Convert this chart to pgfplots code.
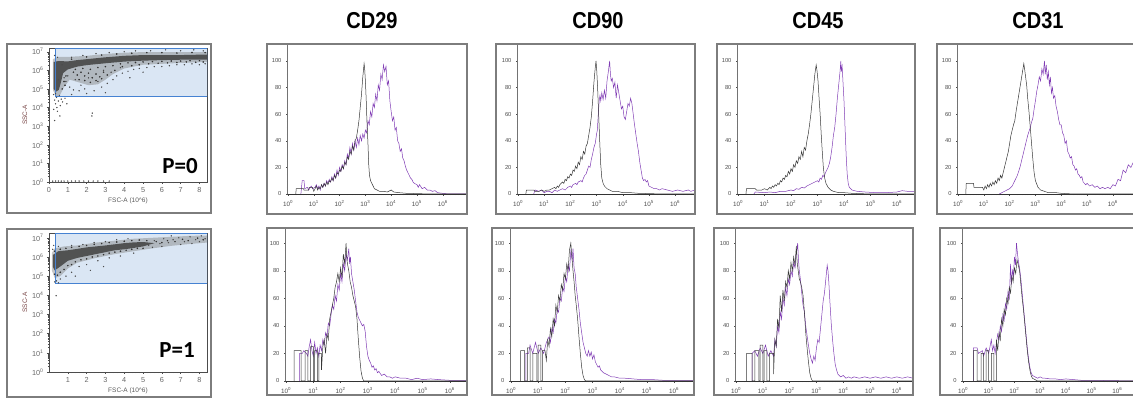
\documentclass[border=0pt]{standalone}
\usepackage{fontspec}
\setmainfont{Liberation Sans}
\newfontfamily\carlito{Carlito}
\usepackage{pgfplots}
\pgfplotsset{compat=1.18}
\newcommand\dec[1]{\mbox{10\textsuperscript{#1}}}
\definecolor{ctrl}{RGB}{55,55,55}
\definecolor{purp}{RGB}{128,60,180}
\definecolor{gateb}{RGB}{70,130,210}
\definecolor{gatef}{RGB}{218,230,244}
\definecolor{framec}{RGB}{125,125,125}
\definecolor{ylab}{RGB}{120,70,70}
\pgfplotsset{
  /pgf/number format/assume math mode=true,
  histo/.style={
    scale only axis, anchor=south west,
    axis x line*=bottom, axis y line*=left,
    x axis line style={black!80, line width=0.45pt},
    y axis line style={draw=black!55, line width=0.45pt, double=white, double distance=0.7pt},
    xmin=0, ymin=0,
    xtick={0,1,2,3,4,5,6},
    xticklabels={\dec{0},\dec{1},\dec{2},\dec{3},\dec{4},\dec{5},\dec{6}},
    minor xtick={0.301,0.477,0.602,0.699,0.778,0.845,0.903,0.954,1.301,1.477,1.602,1.699,1.778,1.845,1.903,1.954,2.301,2.477,2.602,2.699,2.778,2.845,2.903,2.954,3.301,3.477,3.602,3.699,3.778,3.845,3.903,3.954,4.301,4.477,4.602,4.699,4.778,4.845,4.903,4.954,5.301,5.477,5.602,5.699,5.778,5.845,5.903,5.954,6.301,6.477,6.602,6.699,6.778,6.845,6.903,6.954},
    ytick={0,20,40,60,80,100}, minor y tick num=3,
    tick align=outside, major tick length=2pt, minor tick length=1.2pt,
    tick style={black!70, line width=0.35pt},
    xticklabel style={font=\fontsize{6.3}{7}\selectfont, text=black!70, yshift=-1pt},
    yticklabel style={font=\fontsize{5.8}{7}\selectfont, text=black!70, xshift=-1pt},
    every axis plot/.append style={line width=0.5pt, mark=none},
  },
  scat/.style={
    scale only axis, anchor=south west,
    xmin=0, xmax=8.4, ymin=0,
    xtick={0,1,2,3,4,5,6,7,8},
    ytick={0,1,2,3,4,5,6,7},
    yticklabels={\dec{0},\dec{1},\dec{2},\dec{3},\dec{4},\dec{5},\dec{6},\dec{7}},
    minor ytick={0.301,0.477,0.602,0.699,0.778,0.845,0.903,0.954,1.301,1.477,1.602,1.699,1.778,1.845,1.903,1.954,2.301,2.477,2.602,2.699,2.778,2.845,2.903,2.954,3.301,3.477,3.602,3.699,3.778,3.845,3.903,3.954,4.301,4.477,4.602,4.699,4.778,4.845,4.903,4.954,5.301,5.477,5.602,5.699,5.778,5.845,5.903,5.954,6.301,6.477,6.602,6.699,6.778,6.845,6.903,6.954},
    minor x tick num=4,
    tick align=outside, xtick pos=left, ytick pos=left,
    axis line style={black!70, line width=0.45pt},
    tick style={black!70, line width=0.35pt},
    major tick length=2pt, minor tick length=1.2pt,
    tick label style={font=\fontsize{7.3}{8}\selectfont, text=black!60},
    xlabel style={font=\fontsize{6.5}{7}\selectfont, text=black!65, yshift=2pt},
    ylabel style={font=\fontsize{6.5}{7}\selectfont, text=ylab, yshift=-2pt},
    xlabel={FSC-A (10\textasciicircum 6)}, ylabel={SSC-A},
  },
  gate/.style={fill=gatef, draw=none},
  gateline/.style={draw=gateb, line width=0.8pt},
  halo/.style={fill=black!50, draw=none, fill opacity=0.45},
  core/.style={fill=black!72, draw=none, fill opacity=0.9},
  dots/.style={only marks, mark=*, mark size=0.45pt, black!70},
  dotsd/.style={only marks, mark=*, mark size=0.55pt, black!80},
}
\begin{document}
\begin{tikzpicture}
\path[use as bounding box] (0,0) rectangle (1133pt,398pt);

% ---------------- titles ----------------
\foreach \t/\xx in {CD29/372,CD90/598,CD45/818,CD31/1038}{
  \node[font=\fontsize{20}{22}\selectfont\bfseries, yscale=1.15] at (\xx pt,377pt) {\t};
}

% ---------------- scatter P=0 ----------------
\begin{axis}[scat, at={(49pt,216pt)}, width=158pt, height=134pt, ymax=7.2]
\addplot[gate] coordinates {(0.32,4.62) (8.4,4.62) (8.4,7.2) (0.32,7.2)} -- cycle;
\addplot[halo] coordinates {(0.22,4.9) (0.2,6.6) (0.5,6.72) (1,6.72) (2,6.78) (3,6.88) (4,6.95) (5,6.98) (6,6.98) (7,6.98) (8.4,6.98) (8.4,6.45) (7,6.4) (6,6.35) (5,6.3) (4,6.1) (3.4,5.8) (3,5.5) (2.6,5.25) (2.1,5.2) (1.6,5.35) (1.1,5.5) (0.8,5.1) (0.6,4.7) (0.4,4.6)} -- cycle;
\addplot[core] coordinates {(0.25,5.0) (0.25,6.45) (0.5,6.5) (1,6.48) (1.5,6.55) (2,6.6) (3,6.7) (4,6.78) (5,6.82) (6,6.82) (7,6.82) (8.4,6.85) (8.4,6.58) (7,6.57) (6,6.55) (5,6.52) (4,6.47) (3,6.38) (2,6.28) (1.5,6.2) (1,6.05) (0.75,5.85) (0.62,5.3) (0.52,4.95) (0.36,4.85)} -- cycle;
\addplot[dotsd] coordinates {(1.3,5.9) (1.5,5.75) (1.7,5.9) (1.9,5.7) (2.1,5.85) (2.3,5.6) (2.5,5.8) (2.7,5.65) (2.9,5.9) (1.6,5.5) (1.9,5.45) (2.2,5.35) (2.5,5.45) (2.8,5.55) (3.1,5.75) (1.4,6.05) (1.8,6.1) (2.2,6.05) (2.6,6.15) (3.0,6.2) (3.4,6.25) (3.8,6.35) (4.2,6.4) (4.6,6.42) (5.0,6.45) (5.5,6.47) (6.0,6.48) (6.5,6.5) (7.0,6.5) (7.5,6.52) (8.0,6.52) (0.8,5.4) (0.85,5.2) (0.7,5.0) (0.9,5.7) (3.5,6.0) (3.9,6.2) (4.4,6.25) (4.8,6.3) (5.3,6.35) (5.8,6.38) (6.3,6.4) (6.8,6.42) (7.3,6.45) (7.8,6.43) (8.2,6.45) (1.2,6.6) (2.0,6.72) (2.8,6.82) (3.6,6.88) (4.4,6.92) (5.2,6.95) (6.0,6.95) (6.8,6.93) (7.6,6.96) (8.3,6.95)};
\addplot[dots] coordinates {(0.9,5.4) (1.1,5.1) (1.3,4.95) (1.6,4.9) (1.9,5.0) (2.4,4.9) (2.8,5.1) (3.1,5.3) (3.4,5.5) (3.6,5.7) (3.9,5.85) (4.2,5.95) (4.5,6.05) (4.8,6.1) (5.2,6.15) (5.6,6.2) (6.0,6.2) (6.4,6.25) (6.8,6.3) (7.2,6.3) (7.6,6.35) (8.0,6.3) (8.3,6.35) (3.3,5.9) (3.8,6.15) (2.9,6.0) (2.1,5.6) (1.4,5.5) (1.0,5.7) (0.8,5.6) (0.7,6.3) (1.2,6.7) (1.8,6.8) (2.5,6.9) (3.2,6.95) (4.0,7.0) (4.6,7.05) (5.4,7.05) (6.2,7.1) (7.0,7.05) (7.7,7.1) (8.2,7.05) (4.3,5.6) (5.0,5.9) (2.6,5.4) (1.7,5.2) (3.0,4.8) (2.0,4.75) (1.2,4.7) (0.5,5.5) (0.45,6.7) (0.3,6.8) (0.35,4.75) (0.55,4.65) (0.25,4.7)
(0.3,4.4) (0.35,4.2) (0.5,4.35) (0.42,4.0) (0.6,4.1) (0.72,4.3) (0.45,3.8) (0.58,3.55) (0.95,4.2) (0.3,3.3) (2.3,3.7) (2.28,3.55) (0.85,4.5) (0.4,4.55) (0.65,4.45) (0.25,3.9)
(0.2,0.05) (0.35,0.05) (0.5,0.05) (0.65,0.05) (0.8,0.05) (1.0,0.05) (1.2,0.05) (1.4,0.05) (1.6,0.05) (1.85,0.05) (2.1,0.05) (2.35,0.05) (2.6,0.05) (2.9,0.05) (3.2,0.05)};
\addplot[gateline] coordinates {(0.32,4.62) (8.4,4.62) (8.4,7.2) (0.32,7.2)} -- cycle;
\end{axis}
\node[font={\carlito\fontsize{23}{24}\selectfont\bfseries}] at (180pt,232pt) {P=0};

% ---------------- scatter P=1 ----------------
\begin{axis}[scat, at={(49pt,26pt)}, width=158pt, height=139pt, ymax=7.25, xtick={1,2,3,4,5,6,7,8}]
\addplot[gate] coordinates {(0.32,4.6) (8.4,4.6) (8.4,7.25) (0.32,7.25)} -- cycle;
\addplot[halo] coordinates {(0.15,5.3) (0.15,6.2) (0.3,6.45) (0.8,6.55) (1.5,6.6) (2.5,6.75) (3.5,6.85) (4.5,6.95) (5.5,7.0) (6.5,7.05) (7.5,7.1) (8.4,7.12) (8.4,6.75) (7.5,6.68) (6.5,6.58) (5.5,6.45) (4.5,6.3) (3.5,6.15) (2.5,5.95) (1.5,5.7) (1,5.4) (0.6,5.0) (0.3,4.9)} -- cycle;
\addplot[core] coordinates {(0.2,5.5) (0.2,6.1) (0.5,6.3) (1,6.35) (1.5,6.42) (2,6.5) (2.5,6.55) (3,6.6) (3.5,6.66) (4,6.72) (4.5,6.76) (5,6.78) (5.6,6.72) (5,6.55) (4.5,6.47) (4,6.4) (3.5,6.35) (3,6.25) (2.5,6.15) (2,6.05) (1.5,5.95) (1,5.8) (0.6,5.5) (0.3,5.3)} -- cycle;
\addplot[dotsd] coordinates {(0.3,5.1) (0.45,5.05) (0.6,5.2) (0.8,5.35) (1.0,5.55) (1.2,5.6) (1.4,5.75) (1.7,5.85) (2.0,5.9) (2.3,6.0) (2.6,6.05) (2.9,6.12) (3.2,6.2) (3.5,6.25) (3.8,6.3) (4.1,6.35) (4.4,6.4) (4.7,6.45) (5.0,6.45) (0.3,6.3) (0.6,6.4) (0.9,6.45) (1.2,6.5) (1.6,6.55) (2.0,6.6) (2.4,6.66) (2.8,6.7) (3.2,6.75) (3.6,6.78) (4.0,6.82) (4.4,6.85) (4.8,6.88) (5.2,6.85) (5.7,6.8) (6.0,6.75) (6.3,6.85) (6.7,6.8) (7.1,6.92) (7.4,6.85) (7.9,6.98) (8.2,6.9)};
\addplot[dots] coordinates {(5.3,6.6) (5.6,6.85) (5.9,6.7) (6.1,6.95) (6.35,6.75) (6.6,6.9) (6.9,7.0) (7.2,6.8) (7.5,7.05) (7.8,6.9) (8.1,7.1) (8.3,6.95) (5.5,6.5) (6.0,6.55) (7.0,6.65) (6.5,7.1) (7.6,6.7) (8.0,6.8) (4.8,6.9) (4.2,6.95) (3.6,6.9) (3.0,6.8) (2.4,6.75) (1.8,6.65) (1.2,6.6) (4.5,6.2) (3.8,6.05) (3.2,5.95) (2.6,5.8) (2.0,5.6) (1.6,5.5) (1.2,5.2) (0.9,5.0) (0.6,4.85) (0.4,4.75) (0.3,4.7) (0.5,4.65) (0.38,3.98) (1.4,5.0) (2.2,5.3) (2.9,5.5) (0.2,6.4) (0.25,6.6) (0.5,6.55)};
\addplot[gateline] coordinates {(0.32,4.6) (8.4,4.6) (8.4,7.25) (0.32,7.25)} -- cycle;
\end{axis}
\node[font={\carlito\fontsize{23}{24}\selectfont\bfseries}] at (177pt,48pt) {P=1};

% ---------------- row 1 histograms ----------------
% CD29
\begin{axis}[histo, at={(288pt,204pt)}, width=179pt, height=149pt, xmax=6.94, ymax=112]
\addplot[purp] coordinates {(0.5,0) (0.55,10) (0.62,10) (0.65,4) (0.75,5) (0.8,3) (0.9,6) (0.95,4) (1.05,5) (1.1,7) (1.15,4) (1.2,6) (1.25,3) (1.3,7) (1.35,5) (1.4,8) (1.45,6) (1.5,10) (1.55,8) (1.6,11) (1.65,9) (1.7,13) (1.75,10) (1.8,15) (1.85,12) (1.9,18) (1.95,14) (2.0,20) (2.05,17) (2.1,22) (2.15,19) (2.2,25) (2.25,22) (2.3,30) (2.35,27) (2.4,35) (2.45,30) (2.5,38) (2.55,33) (2.6,40) (2.65,35) (2.7,42) (2.75,37) (2.8,44) (2.85,40) (2.9,45) (2.95,42) (3.0,48) (3.05,46) (3.1,55) (3.15,52) (3.2,62) (3.25,58) (3.3,68) (3.35,65) (3.4,75) (3.45,70) (3.5,82) (3.55,78) (3.6,90) (3.65,86) (3.7,97) (3.75,92) (3.8,96) (3.85,82) (3.9,85) (3.95,70) (4.0,62) (4.05,55) (4.1,58) (4.15,48) (4.2,50) (4.25,40) (4.3,38) (4.35,32) (4.4,34) (4.45,27) (4.5,25) (4.55,21) (4.6,18) (4.65,16) (4.7,14) (4.75,12) (4.8,11) (4.85,9) (4.9,8) (5.0,7) (5.05,5) (5.1,7) (5.2,4) (5.3,5) (5.4,3) (5.5,3) (5.6,2) (5.7,2.5) (5.8,1) (6.0,0.5) (6.2,0) (6.94,0)};
\addplot[ctrl] coordinates {(0.3,0) (0.32,4) (0.6,4) (0.62,3) (0.8,3) (0.82,5) (0.95,5) (1.0,2) (1.05,4) (1.1,6) (1.15,3) (1.2,5) (1.25,4) (1.3,7) (1.35,5) (1.4,8) (1.45,6) (1.5,9) (1.55,7) (1.6,10) (1.65,9) (1.7,12) (1.75,10) (1.8,14) (1.85,12) (1.9,16) (1.95,15) (2.0,18) (2.05,17) (2.1,21) (2.15,19) (2.2,24) (2.25,22) (2.3,28) (2.35,26) (2.4,32) (2.45,30) (2.5,36) (2.55,33) (2.6,40) (2.65,42) (2.7,48) (2.75,55) (2.8,65) (2.85,75) (2.9,88) (2.95,98) (2.97,95) (3.0,85) (3.03,72) (3.06,55) (3.1,38) (3.13,22) (3.16,14) (3.2,10) (3.25,8) (3.3,6) (3.35,4) (3.45,3) (3.55,2) (3.7,2) (3.85,1.5) (4.0,3) (4.1,1.5) (4.3,1) (4.6,0.5) (5,0.3) (5.5,0) (6.94,0)};
\end{axis}
% CD90
\begin{axis}[histo, at={(518pt,204pt)}, width=177pt, height=149pt, xmax=6.76, ymax=112]
\addplot[purp] coordinates {(0.6,0) (0.65,3) (0.8,2) (0.9,3) (1.0,1) (1.1,2) (1.2,2) (1.3,1) (1.4,3) (1.5,2) (1.6,3) (1.7,4) (1.8,3) (1.9,5) (2.0,6) (2.05,5) (2.1,7) (2.2,8) (2.25,7) (2.3,9) (2.4,10) (2.45,9) (2.5,12) (2.55,14) (2.6,15) (2.65,18) (2.7,21) (2.75,20) (2.8,26) (2.85,30) (2.9,35) (2.95,38) (3.0,45) (3.03,48) (3.06,58) (3.1,70) (3.13,74) (3.16,70) (3.2,76) (3.25,71) (3.3,78) (3.35,72) (3.4,85) (3.45,92) (3.5,100) (3.53,90) (3.56,85) (3.6,87) (3.65,80) (3.7,84) (3.75,72) (3.8,82) (3.85,76) (3.9,70) (3.95,64) (4.0,66) (4.05,58) (4.1,56) (4.15,62) (4.2,68) (4.25,66) (4.3,72) (4.35,68) (4.4,60) (4.45,52) (4.5,45) (4.55,38) (4.6,32) (4.65,24) (4.7,18) (4.75,12) (4.8,10) (4.85,11) (4.9,9) (4.95,10) (5.0,6) (5.1,5) (5.2,4) (5.3,4) (5.4,3) (5.5,4) (5.7,3) (5.9,2) (6.1,3) (6.3,2) (6.5,3) (6.6,2) (6.76,3)};
\addplot[ctrl] coordinates {(0.3,0) (0.32,3) (0.6,3) (0.65,2) (0.8,2) (0.9,3) (1.0,2) (1.1,3) (1.2,3) (1.3,4) (1.4,5) (1.45,4) (1.5,6) (1.55,5) (1.6,7) (1.65,8) (1.7,9) (1.75,8) (1.8,11) (1.85,10) (1.9,13) (1.95,12) (2.0,15) (2.05,14) (2.1,18) (2.15,17) (2.2,21) (2.25,19) (2.3,24) (2.35,22) (2.4,28) (2.45,26) (2.5,32) (2.55,30) (2.6,36) (2.65,38) (2.7,44) (2.75,50) (2.8,58) (2.85,70) (2.9,84) (2.95,95) (2.98,100) (3.01,92) (3.04,80) (3.08,60) (3.12,40) (3.16,22) (3.2,12) (3.25,8) (3.3,6) (3.4,4) (3.5,3) (3.6,2) (3.8,2) (4.0,1) (4.3,1) (4.6,0.5) (5,0.3) (5.5,0) (6.76,0)};
\end{axis}
% CD45
\begin{axis}[histo, at={(738pt,204pt)}, width=177pt, height=149pt, xmax=6.68, ymax=112]
\addplot[purp] coordinates {(0.6,0) (0.65,1.5) (1.0,1) (1.2,1.5) (1.4,1) (1.6,2) (1.8,2) (2.0,3) (2.1,2.5) (2.2,4) (2.3,3.5) (2.4,5) (2.5,4.5) (2.6,6) (2.7,7) (2.8,8) (2.9,9) (3.0,10) (3.05,9) (3.1,12) (3.15,11) (3.2,14) (3.25,13) (3.3,16) (3.35,18) (3.4,20) (3.45,23) (3.5,28) (3.55,35) (3.6,44) (3.65,50) (3.7,60) (3.75,72) (3.8,82) (3.85,92) (3.88,100) (3.9,92) (3.93,96) (3.96,85) (4.0,70) (4.04,50) (4.08,30) (4.12,15) (4.16,8) (4.2,5) (4.3,3) (4.5,2) (4.8,1.5) (5.2,1) (5.6,1) (6.0,1.5) (6.2,2.5) (6.4,2) (6.68,2)};
\addplot[ctrl] coordinates {(0.3,0) (0.32,4) (0.65,4) (0.7,3) (0.9,3) (1.0,4) (1.1,3) (1.2,5) (1.25,4) (1.3,6) (1.35,5) (1.4,7) (1.45,6) (1.5,8) (1.55,7) (1.6,10) (1.65,9) (1.7,12) (1.75,11) (1.8,14) (1.85,13) (1.9,17) (1.95,15) (2.0,19) (2.05,17) (2.1,22) (2.15,20) (2.2,25) (2.25,23) (2.3,28) (2.35,26) (2.4,32) (2.45,28) (2.5,35) (2.55,33) (2.6,40) (2.65,45) (2.7,52) (2.75,60) (2.8,70) (2.85,80) (2.9,90) (2.95,97) (2.98,93) (3.02,85) (3.06,72) (3.1,60) (3.14,45) (3.18,32) (3.22,20) (3.27,12) (3.32,8) (3.4,5) (3.5,3) (3.6,2) (3.8,1) (4.0,1) (4.3,0.5) (5,0) (6.68,0)};
\end{axis}
% CD31
\begin{axis}[histo, at={(958pt,204pt)}, width=176pt, height=149pt, xmax=6.82, ymax=112]
\addplot[purp] coordinates {(1.6,0) (1.7,1) (1.8,2) (1.9,3) (2.0,4) (2.05,5) (2.1,6) (2.15,8) (2.2,10) (2.25,12) (2.3,14) (2.35,17) (2.4,20) (2.45,24) (2.5,28) (2.55,32) (2.6,36) (2.65,40) (2.7,44) (2.75,47) (2.8,50) (2.85,54) (2.9,57) (2.95,64) (3.0,70) (3.05,77) (3.1,82) (3.15,88) (3.2,85) (3.25,94) (3.3,90) (3.35,100) (3.38,90) (3.42,97) (3.46,86) (3.5,92) (3.54,82) (3.58,88) (3.62,76) (3.66,80) (3.7,72) (3.75,74) (3.8,66) (3.85,62) (3.9,56) (3.95,52) (4.0,52) (4.05,46) (4.1,44) (4.15,38) (4.2,40) (4.25,32) (4.3,30) (4.35,27) (4.4,28) (4.45,22) (4.5,21) (4.55,18) (4.6,19) (4.65,15) (4.7,14) (4.75,12) (4.8,13) (4.85,9) (4.9,8) (4.95,7) (5.0,8) (5.1,6) (5.2,7) (5.3,5) (5.4,6) (5.5,4) (5.6,5) (5.7,4) (5.8,5) (5.9,4) (6.0,7) (6.1,6) (6.2,11) (6.3,10) (6.4,18) (6.5,16) (6.6,22) (6.7,20) (6.82,25)};
\addplot[ctrl] coordinates {(0.3,0) (0.32,8) (0.6,8) (0.62,5) (0.95,5) (1.0,3) (1.05,6) (1.1,4) (1.15,7) (1.2,5) (1.25,8) (1.3,6) (1.35,9) (1.4,7) (1.45,10) (1.5,8) (1.55,12) (1.6,10) (1.65,14) (1.7,12) (1.75,16) (1.8,20) (1.85,24) (1.9,28) (1.95,32) (2.0,38) (2.05,44) (2.1,48) (2.15,52) (2.2,55) (2.25,62) (2.3,68) (2.35,74) (2.4,80) (2.45,86) (2.5,92) (2.55,98) (2.58,94) (2.62,88) (2.66,82) (2.7,72) (2.75,62) (2.8,50) (2.85,38) (2.9,26) (2.95,16) (3.0,10) (3.1,5) (3.2,3) (3.35,2) (3.5,1) (3.8,1) (4.0,0.5) (4.5,0) (6.82,0)};
\end{axis}

% ---------------- row 2 histograms ----------------
% CD29
\begin{axis}[histo, at={(286pt,17pt)}, width=181pt, height=153pt, xmax=6.63, ymax=111]
\addplot[purp] coordinates {(0.5,0) (0.5,20) (0.6,20) (0.65,22) (0.75,20) (0.8,18) (0.85,25) (0.9,30) (0.95,22) (1.0,18) (1.05,28) (1.1,20) (1.15,24) (1.2,18) (1.25,26) (1.3,22) (1.35,30) (1.4,26) (1.45,35) (1.5,32) (1.55,42) (1.6,40) (1.65,48) (1.7,55) (1.75,52) (1.8,62) (1.85,58) (1.9,70) (1.95,66) (2.0,78) (2.05,72) (2.1,85) (2.15,80) (2.2,92) (2.25,88) (2.3,96) (2.33,85) (2.36,90) (2.4,78) (2.45,72) (2.5,66) (2.55,58) (2.6,50) (2.65,46) (2.7,44) (2.75,42) (2.8,40) (2.85,41) (2.9,36) (2.95,25) (3.0,18) (3.05,15) (3.1,13) (3.15,10) (3.2,11) (3.25,8) (3.3,9) (3.35,6) (3.4,7) (3.5,4) (3.6,5) (3.7,3) (3.8,3) (3.9,2) (4.0,3) (4.2,2) (4.4,2) (4.6,1) (4.8,2) (5.0,1) (5.3,1.5) (5.6,1) (6.0,0.5) (6.63,0.5)};
\addplot[ctrl] coordinates {(0.3,0) (0.3,22) (0.55,22) (0.55,0) (0.7,0) (0.7,22) (0.8,22) (0.8,0) (0.9,0) (0.9,25) (1.0,25) (1.0,0) (1.05,0) (1.05,22) (1.15,22) (1.15,0) (1.2,0) (1.2,20) (1.3,20) (1.3,8) (1.35,25) (1.4,30) (1.45,20) (1.5,34) (1.55,30) (1.6,45) (1.65,50) (1.7,55) (1.75,60) (1.8,68) (1.85,72) (1.9,78) (1.95,72) (2.0,82) (2.05,75) (2.1,92) (2.15,85) (2.2,100) (2.23,88) (2.26,84) (2.3,80) (2.35,72) (2.4,68) (2.45,62) (2.5,58) (2.55,54) (2.6,45) (2.65,30) (2.7,17) (2.75,7) (2.8,2) (2.85,0) (6.63,0)};
\end{axis}
% CD90
\begin{axis}[histo, at={(511pt,17pt)}, width=183pt, height=153pt, xmax=6.73, ymax=111]
\addplot[purp] coordinates {(0.55,0) (0.55,20) (0.65,20) (0.7,26) (0.8,20) (0.9,28) (1.0,20) (1.1,24) (1.2,20) (1.3,28) (1.4,32) (1.45,28) (1.5,38) (1.55,35) (1.6,45) (1.65,42) (1.7,52) (1.75,50) (1.8,60) (1.85,58) (1.9,68) (1.95,65) (2.0,76) (2.05,72) (2.1,84) (2.15,80) (2.2,94) (2.25,88) (2.28,96) (2.32,82) (2.36,78) (2.4,68) (2.45,60) (2.5,52) (2.55,42) (2.6,35) (2.65,28) (2.7,24) (2.75,20) (2.8,18) (2.85,22) (2.9,18) (2.95,21) (3.0,16) (3.05,19) (3.1,14) (3.15,12) (3.2,10) (3.25,11) (3.3,8) (3.4,6) (3.5,5) (3.6,4) (3.7,3) (3.8,3) (4.0,2) (4.2,2) (4.5,1.5) (4.8,1) (5.2,1) (5.6,0.5) (6.73,0.5)};
\addplot[ctrl] coordinates {(0.35,0) (0.35,22) (0.5,22) (0.5,0) (0.6,0) (0.6,24) (0.7,24) (0.7,0) (0.8,0) (0.8,20) (0.95,20) (0.95,0) (1.0,0) (1.0,26) (1.1,26) (1.1,0) (1.15,0) (1.15,22) (1.25,22) (1.3,15) (1.35,30) (1.4,25) (1.45,38) (1.5,32) (1.55,45) (1.6,40) (1.65,55) (1.7,50) (1.75,62) (1.8,58) (1.85,70) (1.9,66) (1.95,78) (2.0,74) (2.05,85) (2.1,80) (2.15,95) (2.2,100) (2.24,90) (2.28,80) (2.32,72) (2.36,62) (2.4,55) (2.45,45) (2.5,32) (2.55,20) (2.6,10) (2.65,4) (2.7,1) (2.75,0) (6.73,0)};
\end{axis}
% CD45
\begin{axis}[histo, at={(736pt,17pt)}, width=177pt, height=153pt, xmax=6.6, ymax=111]
\addplot[purp] coordinates {(0.6,0) (0.6,20) (0.7,22) (0.8,18) (0.9,24) (1.0,20) (1.1,26) (1.2,18) (1.3,22) (1.4,18) (1.45,30) (1.5,25) (1.55,40) (1.6,35) (1.65,50) (1.7,45) (1.75,60) (1.8,55) (1.85,68) (1.9,62) (1.95,74) (2.0,70) (2.05,80) (2.1,76) (2.15,86) (2.2,82) (2.25,92) (2.3,100) (2.33,88) (2.36,80) (2.4,74) (2.45,64) (2.5,55) (2.55,50) (2.6,40) (2.65,33) (2.7,26) (2.75,20) (2.8,16) (2.85,13) (2.9,18) (2.95,15) (3.0,24) (3.05,30) (3.1,28) (3.15,38) (3.2,48) (3.25,58) (3.3,64) (3.35,74) (3.4,84) (3.43,80) (3.46,72) (3.5,58) (3.55,42) (3.6,30) (3.65,20) (3.7,12) (3.75,8) (3.8,5) (3.85,4) (3.9,3) (4.0,4) (4.1,2) (4.2,3) (4.3,2) (4.4,3) (4.6,2) (4.8,3) (5.0,2) (5.2,3) (5.4,2) (5.6,3) (5.8,2) (6.0,3) (6.2,2) (6.4,3) (6.6,2)};
\addplot[ctrl] coordinates {(0.4,0) (0.4,20) (0.6,20) (0.6,0) (0.7,0) (0.7,22) (0.85,22) (0.85,0) (0.9,0) (0.9,26) (1.0,26) (1.0,0) (1.05,0) (1.05,22) (1.15,22) (1.15,0) (1.25,0) (1.25,20) (1.4,20) (1.4,5) (1.45,30) (1.5,25) (1.55,45) (1.6,38) (1.65,62) (1.7,50) (1.75,66) (1.8,58) (1.85,72) (1.9,68) (1.95,80) (2.0,74) (2.05,86) (2.1,80) (2.15,90) (2.2,84) (2.25,98) (2.28,86) (2.32,80) (2.36,74) (2.4,72) (2.45,68) (2.5,62) (2.55,50) (2.6,35) (2.65,24) (2.7,14) (2.75,6) (2.8,2) (2.85,0) (6.6,0)};
\end{axis}
% CD31
\begin{axis}[histo, at={(963pt,17pt)}, width=171pt, height=153pt, xmax=6.65, ymax=111]
\addplot[purp] coordinates {(0.4,0) (0.4,24) (0.55,24) (0.6,20) (0.75,22) (0.8,18) (0.9,24) (1.0,20) (1.1,30) (1.15,22) (1.2,26) (1.25,20) (1.3,28) (1.35,34) (1.4,30) (1.45,40) (1.5,36) (1.55,48) (1.6,44) (1.65,56) (1.7,52) (1.75,65) (1.8,60) (1.85,85) (1.88,70) (1.92,80) (1.96,76) (2.0,90) (2.04,84) (2.08,100) (2.12,92) (2.16,86) (2.2,82) (2.25,74) (2.3,64) (2.35,54) (2.4,44) (2.45,34) (2.5,24) (2.55,16) (2.6,10) (2.65,6) (2.7,4) (2.8,3) (2.9,2) (3.0,3) (3.1,2) (3.2,2) (3.4,1.5) (3.6,1.5) (3.8,1) (4.0,1.5) (4.3,1) (4.6,0.5) (5,0.5) (6.65,0)};
\addplot[ctrl] coordinates {(0.4,0) (0.4,22) (0.55,22) (0.55,0) (0.7,0) (0.7,20) (0.8,20) (0.8,0) (0.9,0) (0.9,22) (1.0,22) (1.0,0) (1.1,0) (1.1,20) (1.2,20) (1.2,0) (1.3,0) (1.3,30) (1.35,22) (1.4,35) (1.45,30) (1.5,45) (1.55,40) (1.6,52) (1.65,48) (1.7,60) (1.75,56) (1.8,68) (1.85,64) (1.9,76) (1.95,72) (2.0,82) (2.05,78) (2.1,88) (2.15,84) (2.2,80) (2.25,70) (2.3,60) (2.35,52) (2.4,42) (2.45,32) (2.5,22) (2.55,14) (2.6,8) (2.65,4) (2.7,2) (2.8,1) (2.9,0) (6.65,0)};
\end{axis}

% ---------------- screenshot frames ----------------
\begin{scope}[framec, line width=1.5pt]
\draw (7pt,185pt) rectangle (211pt,354pt);
\draw (7pt,1pt) rectangle (211pt,169pt);
\draw (267pt,184pt) rectangle (467pt,354pt);
\draw (496pt,184pt) rectangle (695pt,354pt);
\draw (717pt,184pt) rectangle (915pt,354pt);
\draw (937pt,184pt) rectangle (1140pt,354pt);
\draw (267pt,3pt) rectangle (467pt,170pt);
\draw (492pt,3pt) rectangle (694pt,170pt);
\draw (714pt,3pt) rectangle (913pt,170pt);
\draw (940pt,3pt) rectangle (1140pt,170pt);
\end{scope}
\end{tikzpicture}
\end{document}
